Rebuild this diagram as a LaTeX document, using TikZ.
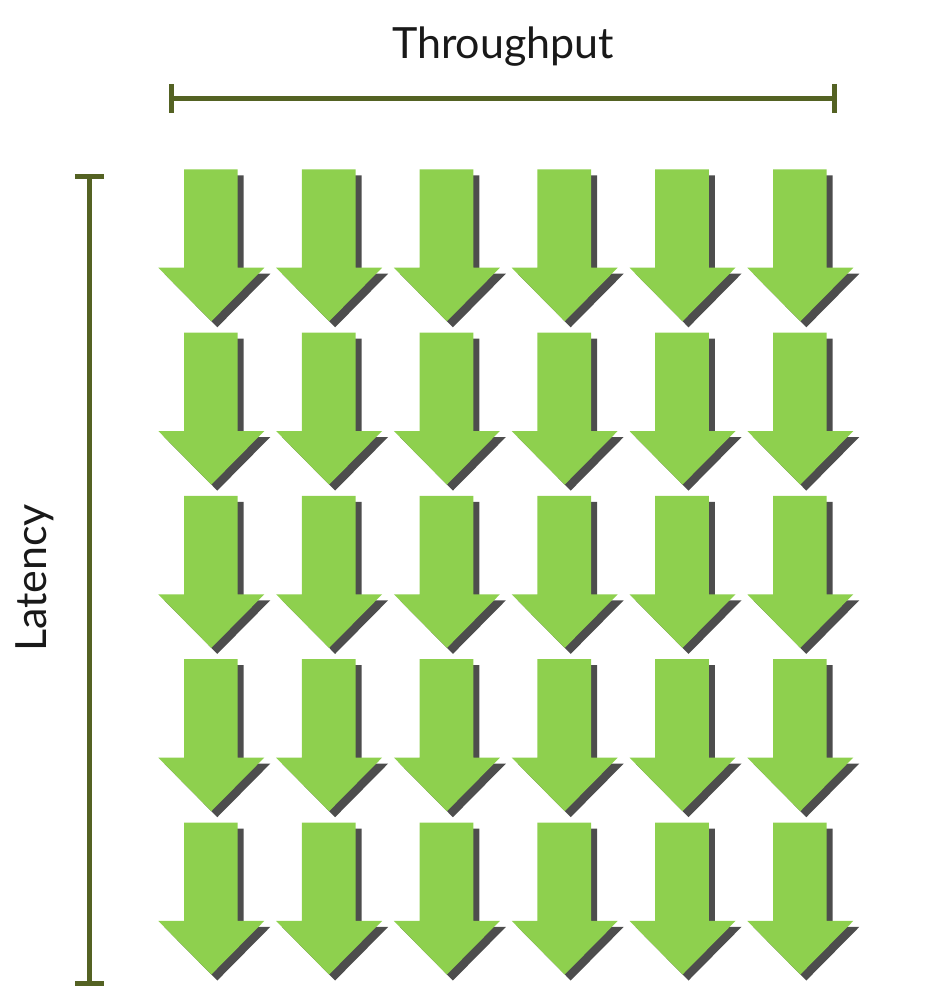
\documentclass[tikz,border=0pt]{standalone}
\usepackage{fontspec}
\setmainfont{Lato}
\usepackage{xcolor}
\usetikzlibrary{arrows.meta,positioning}

\definecolor{arrowgreen}{RGB}{142,208,78}
\definecolor{shadowgray}{RGB}{77,77,77}
\definecolor{olive}{RGB}{84,98,35}

\begin{document}
\begin{tikzpicture}[
    x=1pt,y=-1pt,
    label/.style={font=\fontsize{43}{50}\selectfont,text=black!90,inner sep=0pt},
    span/.style={{Bar[width=29pt]}-{Bar[width=29pt]},line width=5pt,draw=olive},
    arrowbody/.style={fill=arrowgreen},
    arrowshadow/.style={fill=shadowgray}
]
    \useasboundingbox (0,0) rectangle (924,995);

    % Arrows
    \foreach \col in {0,...,5}{
      \foreach \row in {0,...,4}{
        \begin{scope}[shift={(184+117.8*\col,169.3+163.3*\row)}]
          \fill[arrowshadow] (6,6) -- ++(53.7,0) -- ++(0,98.4) -- ++(26.6,0)
            -- ++(-53,53.6) -- ++(-53,-53.6) -- ++(26.4,0) -- cycle;
          \fill[arrowbody] (0,0) -- (53.7,0) -- (53.7,98.4) -- (80.3,98.4)
            -- (27.3,152) -- (-25.7,98.4) -- (0,98.4) -- cycle;
        \end{scope}
      }
    }

    % Spans
    \coordinate (tp left) at (169.2,98.3);
    \coordinate (tp right) at (836.5,98.3);
    \coordinate (lat top) at (89.3,174.2);
    \coordinate (lat bottom) at (89.3,985.8);
    \draw[span] (tp left) -- (tp right);
    \draw[span] (lat top) -- (lat bottom);

    % Labels
    \node[label] (throughput) at (503,47) {Throughput};
    \node[label,rotate=90] (latency) at (35,578) {Latency};
\end{tikzpicture}
\end{document}
